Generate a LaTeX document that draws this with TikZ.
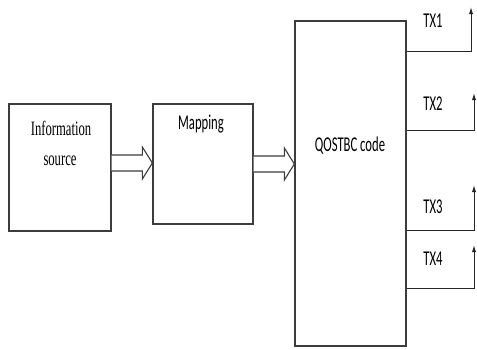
\documentclass[tikz,border=0pt]{standalone}
\usepackage{fontspec}
\usepackage{tikz}
\usetikzlibrary{arrows.meta, positioning, calc}
\newfontfamily\blockfont[FakeStretch=0.6]{Carlito}
\newfontfamily\serifblock[FakeStretch=0.62]{Liberation Serif}
\definecolor{edgegray}{RGB}{60,60,60}

% hollow block arrow between two boxes, at the height of (flow)
\newcommand{\fatarrow}[2]{%
  \draw[hollow] ($(#1.east |- flow)+(0,-8)$) -- ($(#2.west |- flow)+(-10,-8)$)
    -- ($(#2.west |- flow)+(-10,-16)$) -- (#2.west |- flow)
    -- ($(#2.west |- flow)+(-10,16)$) -- ($(#2.west |- flow)+(-10,8)$)
    -- ($(#1.east |- flow)+(0,8)$);}

\begin{document}
\begin{tikzpicture}[x=0.025cm, y=-0.025cm,
    box/.style={draw=edgegray, line width=0.9pt, rectangle, inner sep=0pt},
    hollow/.style={draw=edgegray, line width=0.8pt, fill=white},
    feed/.style={draw=black!85, line width=0.7pt, -{Latex[length=5pt,width=3pt]}},
    lbl/.style={anchor=base, inner sep=0pt, font=\blockfont\fontsize{15}{17}\selectfont},
    every node/.style={text=black}]
    \useasboundingbox (0,0) rectangle (477,349);

    \node[box, minimum width=2.55cm, minimum height=3.175cm] (info) at (60,167.5) {};
    \node[box, minimum width=2.5cm, minimum height=3cm] (map) at (203,164) {};
    \node[box, minimum width=2.775cm, minimum height=8.125cm] (qo) at (350.5,183.5) {};

    \node[lbl, font=\serifblock\fontsize{14.5}{17}\selectfont] (infoa) at (61,135) {Information};
    \node[lbl, font=\serifblock\fontsize{14.5}{17}\selectfont] (infob) at (60,165) {source};
    \node[lbl] (maplbl) at (201,129) {Mapping};
    \node[lbl] (qolbl) at (350,151) {QOSTBC code};

    \coordinate (flow) at (0,163);
    \fatarrow{info}{map}
    \coordinate (flow) at (0,164);
    \fatarrow{map}{qo}

    \coordinate (t1) at (471,7);
    \coordinate (t2) at (474,93);
    \coordinate (t3) at (474,185);
    \coordinate (t4) at (474,245);
    \draw[feed] (qo.east |- 0,51) -| (t1);
    \draw[feed] (qo.east |- 0,130) -| (t2);
    \draw[feed] (qo.east |- 0,230) -| (t3);
    \draw[feed] (qo.east |- 0,288) -| (t4);

    \node[lbl] (tx1) at (433,27) {TX1};
    \node[lbl] (tx2) at (433,110) {TX2};
    \node[lbl] (tx3) at (433,213) {TX3};
    \node[lbl] (tx4) at (433,265) {TX4};
\end{tikzpicture}
\end{document}
